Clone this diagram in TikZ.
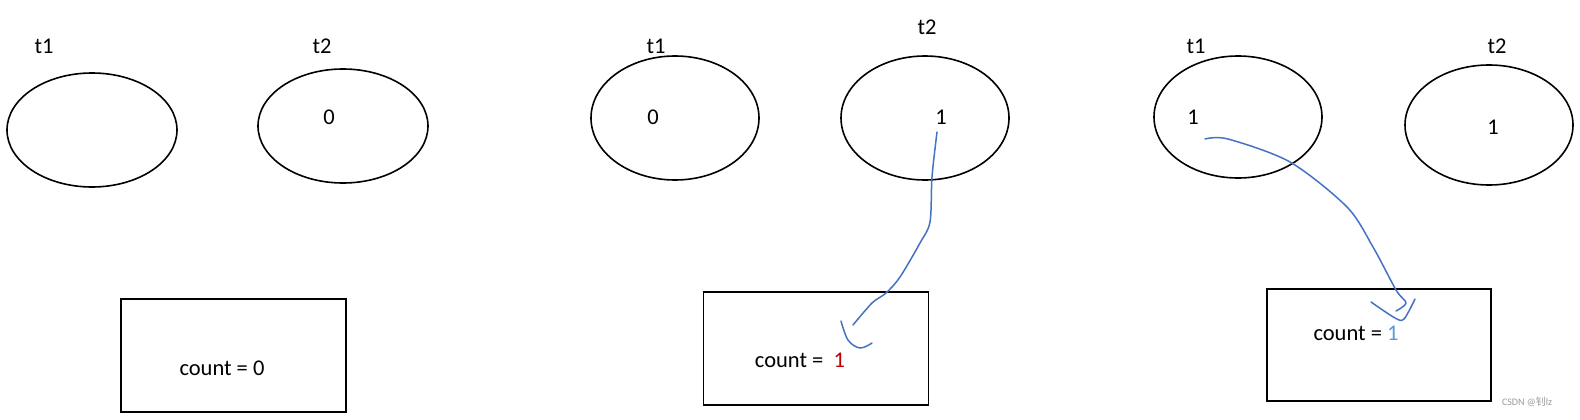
\documentclass[tikz,border=0pt]{standalone}
\usepackage{fontspec}
\setmainfont{Carlito}
\newfontfamily\cjkfont{Noto Sans CJK SC}
\usetikzlibrary{shapes.geometric}
\definecolor{inkblue}{RGB}{68,114,196}
\definecolor{darkred}{RGB}{192,0,0}
\definecolor{lightblue}{RGB}{91,155,213}
\begin{document}
\begin{tikzpicture}[x=1pt,y=-1pt,
  thread/.style={draw=black,line width=1.6pt,ellipse,inner sep=0pt},
  mem/.style={draw=black,line width=1.6pt,rectangle,inner sep=0pt},
  lbl/.style={font=\fontsize{22.5}{25}\selectfont,inner sep=0pt,anchor=center},
  ink/.style={draw=inkblue,line width=1.5pt,line cap=round,line join=round}]
\path[fill=white] (0,0) rectangle (1580,420);
\useasboundingbox (0,0) rectangle (1580,420);
% group 1
\node[thread,minimum width=170pt,minimum height=114pt] (e11) at (92,130) {};
\node[thread,minimum width=170pt,minimum height=114pt] (e12) at (343,126) {};
\node[lbl] (t11) at (44,46) {t1};
\node[lbl] (t12) at (322,46) {t2};
\node[lbl] (v12) at (329,117) {0};
\node[mem,minimum width=225pt,minimum height=113pt] (b1) at (233.5,355.5) {};
\node[lbl] (c1) at (222,368) {count = 0};
% group 2
\node[thread,minimum width=168pt,minimum height=124pt] (e21) at (675,118) {};
\node[thread,minimum width=168pt,minimum height=124pt] (e22) at (925,118) {};
\node[lbl] (t21) at (656,46) {t1};
\node[lbl] (t22) at (927,27) {t2};
\node[lbl] (v21) at (653,117) {0};
\node[lbl] (v22) at (941,117) {1};
\node[mem,minimum width=225pt,minimum height=113pt] (b2) at (816,348.5) {};
\node[lbl] (c2) at (800,360) {count =\ \ \textcolor{darkred}{1}};
% group 3
\node[thread,minimum width=168pt,minimum height=122pt] (e31) at (1238,117) {};
\node[thread,minimum width=168pt,minimum height=120pt] (e32) at (1489,125) {};
\node[lbl] (t31) at (1196,46) {t1};
\node[lbl] (t32) at (1497,46) {t2};
\node[lbl] (v31) at (1193,117) {1};
\node[lbl] (v32) at (1493,127) {1};
\node[mem,minimum width=224pt,minimum height=112pt] (b3) at (1379,345) {};
\node[lbl] (c3) at (1356,333) {count = \textcolor{lightblue}{1}};
\node[font=\fontsize{10}{11}\selectfont,text=gray!80,inner sep=0pt] (wm) at (1527,402) {CSDN @{\cjkfont 钊}lz};
% blue ink curve 2
\coordinate (p21) at (937,132);
\coordinate (p22) at (932,177);
\coordinate (p23) at (930,222);
\coordinate (p24) at (920,243);
\coordinate (p25) at (900,277);
\coordinate (p26) at (886,293);
\coordinate (p27) at (872,303);
\coordinate (p28) at (853,325);
\draw[ink] plot[smooth,tension=0.5] coordinates {(p21) (p22) (p23) (p24) (p25) (p26) (p27) (p28)};
\coordinate (h21) at (841,321);
\coordinate (h22) at (848,340);
\coordinate (h23) at (860,348);
\coordinate (h24) at (872,343);
\draw[ink] plot[smooth,tension=0.6] coordinates {(h21) (h22) (h23) (h24)};
% blue ink curve 3
\coordinate (p31) at (1205,139);
\coordinate (p32) at (1228,139);
\coordinate (p33) at (1290,162);
\coordinate (p34) at (1347,207);
\coordinate (p35) at (1373,247);
\coordinate (p36) at (1396,290);
\coordinate (p37) at (1406,303);
\coordinate (p38) at (1396,311);
\draw[ink] plot[smooth,tension=0.5] coordinates {(p31) (p32) (p33) (p34) (p35) (p36) (p37) (p38)};
\coordinate (h31) at (1371,302);
\coordinate (h32) at (1395,318);
\coordinate (h33) at (1404,319);
\coordinate (h34) at (1415,299);
\draw[ink] plot[smooth,tension=0.5] coordinates {(h31) (h32) (h33) (h34)};
\end{tikzpicture}
\end{document}
